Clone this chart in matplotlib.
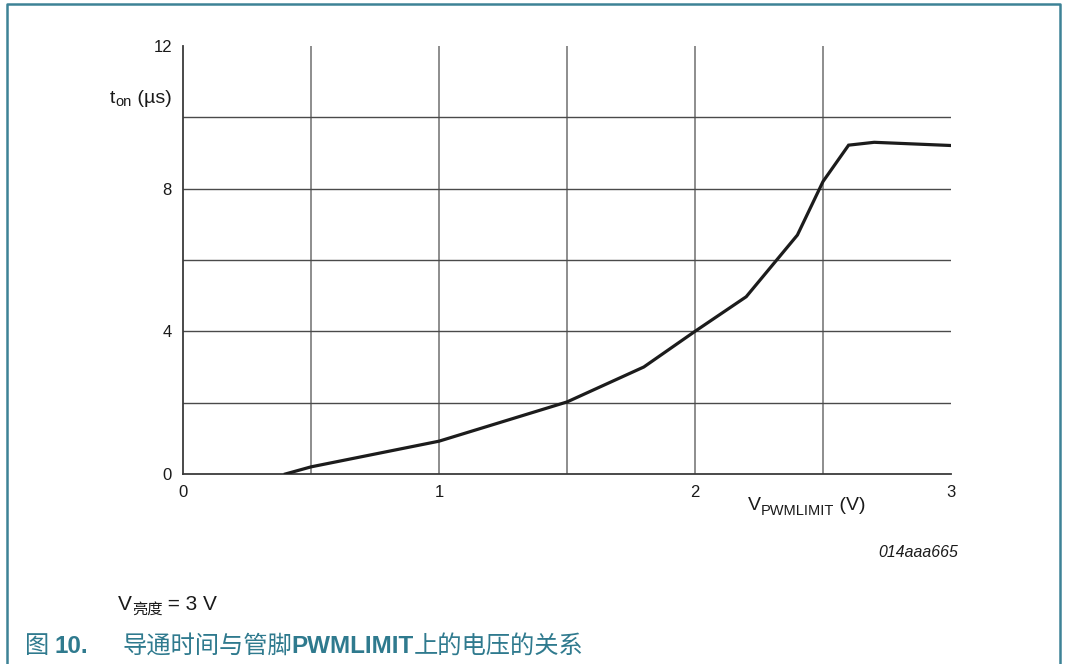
import matplotlib
matplotlib.use("Agg")
import matplotlib.pyplot as plt
from matplotlib.lines import Line2D

plt.rcParams['font.family'] = ['Liberation Sans', 'Noto Sans CJK SC']

# t_on versus V_PWMLIMIT
v_pwmlimit = [0.4, 0.5, 1.0, 1.5, 1.8, 2.0, 2.2, 2.4, 2.5, 2.6, 2.7, 3.0]
t_on = [0.0, 0.2, 0.92, 2.02, 3.0, 4.0, 4.97, 6.7, 8.2, 9.22, 9.3, 9.21]

x_grid = [0.5, 1.0, 1.5, 2.0, 2.5]
y_grid = [2, 4, 6, 8, 10]
x_ticks = [0, 1, 2, 3]
y_ticks = [0, 4, 8, 12]

TEAL = '#2f7a8e'
INK = '#1a1a1a'
CJK = ['Noto Sans CJK SC']
W, H = 1065, 664

fig = plt.figure(figsize=(W / 100, H / 100), dpi=100)
ax = fig.add_axes([183 / W, 1 - 474 / H, (951 - 183) / W, (474 - 46) / H])

for xv in x_grid:
    ax.axvline(xv, color='#7a7a7a', lw=1.2, zorder=1)
for yv in y_grid:
    ax.axhline(yv, color='#4a4a4a', lw=1.0, zorder=1)

ax.plot(v_pwmlimit, t_on, color='#1c1c1c', lw=2.3, solid_joinstyle='miter', zorder=3)

ax.set_xlim(0, 3)
ax.set_ylim(0, 12)
ax.set_xticks(x_ticks)
ax.set_yticks(y_ticks)
ax.tick_params(length=0, labelsize=12, colors=INK)
ax.tick_params(axis='x', pad=8)
ax.tick_params(axis='y', pad=8)
for side in ['top', 'right']:
    ax.spines[side].set_visible(False)
for side in ['left', 'bottom']:
    ax.spines[side].set_color('#3a3a3a')
    ax.spines[side].set_linewidth(1.3)


def chain(pieces, x0, y, **kw):
    # draw text pieces one after another from pixel x0, baseline at pixel y
    renderer = fig.canvas.get_renderer()
    x = x0
    for text, opts in pieces:
        args = dict(kw)
        args.update(opts)
        dy = args.pop('dy', 0)
        t = fig.text(x / W, 1 - (y + dy) / H, text, ha='left', va='baseline', **args)
        x += t.get_window_extent(renderer).width


# axis titles
chain([('t', dict(fontsize=14)),
       ('on', dict(fontsize=10.5, dy=3)),
       (' (µs)', dict(fontsize=14))],
      110, 103, color=INK)
chain([('V', dict(fontsize=14)),
       ('PWMLIMIT', dict(fontsize=10.5, dy=5)),
       (' (V)', dict(fontsize=14))],
      748, 510, color=INK)
fig.text(958 / W, 1 - 557 / H, '014aaa665', ha='right', va='baseline',
         fontsize=11.4, style='italic', color=INK)

# note under the chart
chain([('V', dict(fontsize=15)),
       ('亮度', dict(fontsize=11, dy=4, family=CJK)),
       (' = 3 V', dict(fontsize=15))],
      118, 610, color=INK)

# figure caption
chain([('图 ', dict(fontsize=17.5, family=CJK)),
       ('10.', dict(fontsize=17.5, weight='bold'))],
      25, 653, color=TEAL)
chain([('导通时间与管脚', dict(fontsize=17.5, family=CJK)),
       ('PWMLIMIT', dict(fontsize=17.5, weight='bold')),
       ('上的电压的关系', dict(fontsize=17.5, family=CJK))],
      122, 653, color=TEAL)

# frame around the figure
fig.add_artist(Line2D([7 / W, 7 / W, 1060 / W, 1060 / W],
                      [0, 1 - 4 / H, 1 - 4 / H, 0],
                      transform=fig.transFigure, color='#3d8296', lw=1.8))

fig.savefig('out.png', dpi=100, facecolor='white')
